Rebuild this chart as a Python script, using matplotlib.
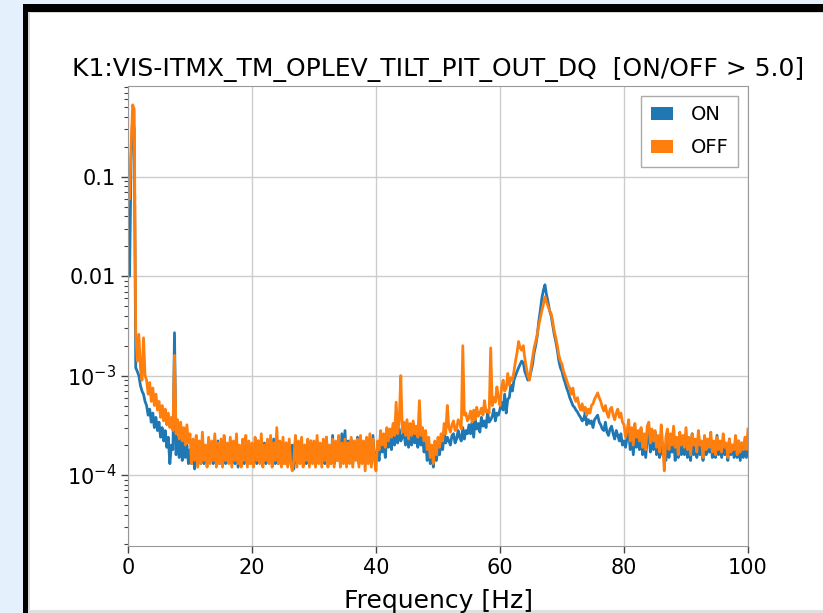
import numpy as np
import matplotlib
matplotlib.use("Agg")
import matplotlib.pyplot as plt
from matplotlib.patches import Rectangle, Patch
from matplotlib.ticker import FuncFormatter, LogLocator, FixedLocator

TITLE = "K1:VIS-ITMX_TM_OPLEV_TILT_PIT_OUT_DQ  [ON/OFF > 5.0]"
XLABEL = "Frequency [Hz]"
SERIES = ["ON", "OFF"]
COLORS = ["#1f77b4", "#ff7f0e"]
XTICKS = [0, 20, 40, 60, 80, 100]
YTICKS = [1e-1, 1e-2, 1e-3, 1e-4]
YTICK_LABELS = ["0.1", "0.01", r"$10^{-3}$", r"$10^{-4}$"]

# frequency samples [Hz], 0.25 Hz spacing
freq = np.arange(0, 100.001, 0.25)

# amplitudes in units of 1e-4
on_x1e4 = [
    # 0 - 2.75
    160, 100, 1500, 4000, 3000, 12, 11, 10, 8, 7, 6.5, 5.5,
    # 3 - 4.75
    5.0, 4.0, 4.6, 3.4, 4.2, 3.0, 3.8, 2.8,
    # 5 - 9.75
    3.4, 2.4, 3.0, 2.2, 2.8, 1.9, 2.4, 1.3, 2.0, 1.8, 27, 1.6, 2.4, 1.5, 2.6, 1.4, 2.2, 1.5, 2.0, 1.3,
    # 10 - 14.75
    1.8, 1.3, 2.0, 1.15, 1.7, 1.4, 2.1, 1.3, 1.9, 1.3, 1.8, 1.3, 2.0, 1.4, 1.7, 1.3, 1.9, 1.3, 2.2, 1.3,
    # 15 - 19.75
    1.9, 1.3, 2.1, 1.3, 1.8, 1.4, 2.2, 1.3, 1.9, 1.3, 2.0, 1.2, 1.8, 1.4, 2.1, 1.3, 1.9, 1.3, 2.0, 1.3,
    # 20 - 24.75
    1.8, 1.3, 2.0, 1.3, 2.2, 1.4, 1.9, 1.3, 2.1, 1.3, 1.8, 1.4, 2.0, 1.3, 2.3, 1.3, 1.9, 1.3, 2.1, 1.4,
    # 25 - 29.75
    1.9, 1.3, 2.1, 1.3, 1.8, 1.4, 2.0, 1.15, 2.2, 1.3, 1.9, 1.4, 2.1, 1.3, 2.0, 1.3, 1.8, 1.3, 2.2, 1.4,
    # 30 - 34.75
    2.0, 1.3, 2.2, 1.4, 1.9, 1.3, 2.1, 1.3, 2.4, 1.4, 1.9, 1.3, 2.5, 1.3, 2.0, 1.4, 2.2, 1.3, 2.6, 1.4,
    # 35 - 39.75
    2.8, 1.3, 2.2, 1.4, 2.3, 1.3, 2.1, 1.5, 2.4, 1.3, 2.2, 1.4, 2.0, 1.3, 2.3, 1.5, 2.1, 1.4, 2.5, 1.5,
    # 40 - 44.75
    1.6, 1.8, 1.4, 2.3, 1.7, 2.2, 1.5, 2.6, 1.9, 2.4, 1.8, 2.8, 2.0, 2.6, 2.1, 2.9, 2.2, 2.4, 2.8, 2.0,
    # 45 - 49.75
    2.8, 1.9, 2.6, 2.0, 2.9, 2.1, 2.5, 1.9, 3.0, 2.0, 2.4, 1.7, 2.2, 1.4, 1.9, 1.3, 1.7, 1.2, 1.9, 1.4,
    # 50 - 54.75
    2.0, 1.6, 2.2, 1.8, 2.6, 2.1, 2.4, 2.2, 2.0, 2.5, 2.6, 2.1, 2.3, 2.8, 2.4, 2.2, 3.0, 2.3, 2.8, 2.6,
    # 55 - 59.75
    3.2, 2.6, 3.4, 2.4, 3.6, 2.9, 3.3, 2.7, 3.8, 3.1, 3.5, 3.0, 4.3, 3.4, 3.6, 3.9, 4.6, 3.5, 4.2, 4.0,
    # 60 - 64.75
    4.6, 5.4, 4.5, 6.5, 4.2, 5.8, 6.0, 8.0, 7.0, 9.0, 10, 11, 12, 13, 14, 13.5, 11, 10, 9.0, 9.5,
    # 65 - 69.75
    11, 13, 17, 20, 25, 35, 45, 60, 72, 82, 65, 55, 45, 40, 32, 26, 22, 18, 14, 12,
    # 70 - 74.75
    11, 9.5, 8.5, 7.5, 6.8, 6.0, 5.5, 5.0, 4.8, 4.5, 4.3, 4.0, 3.8, 3.5, 3.6, 4.3, 3.2, 3.6, 3.3, 3.5,
    # 75 - 79.75
    3.0, 3.6, 3.8, 4.0, 3.4, 3.2, 2.9, 2.8, 3.4, 2.7, 2.5, 2.9, 3.1, 2.6, 2.3, 2.8, 2.5, 2.2, 2.6, 2.0,
    # 80 - 84.75
    2.2, 1.9, 2.4, 2.8, 1.8, 2.5, 1.6, 2.6, 1.9, 2.4, 1.8, 2.9, 1.6, 2.2, 1.5, 2.4, 2.7, 1.7, 2.3, 1.8,
    # 85 - 89.75
    2.7, 1.6, 2.1, 1.5, 2.3, 1.6, 2.0, 1.4, 2.6, 1.5, 2.2, 1.7, 2.4, 1.4, 2.0, 1.5, 2.5, 1.6, 2.2, 1.6,
    # 90 - 94.75
    2.2, 1.5, 2.0, 1.4, 2.6, 1.6, 2.1, 1.5, 2.3, 1.6, 1.9, 1.4, 2.4, 1.6, 2.0, 1.7, 2.2, 1.5, 2.0, 1.5,
    # 95 - 99.75
    2.5, 1.6, 2.0, 1.5, 2.1, 1.6, 1.9, 1.4, 2.3, 1.6, 2.0, 1.5, 2.0, 1.5, 2.2, 1.4, 2.1, 1.5, 2.0, 1.5,
    # 100
    2.0,
]
off_x1e4 = [
    # 0 - 2.75
    1000, 600, 2000, 5300, 4800, 27, 14, 26, 12, 9, 24, 10,
    # 3 - 4.75
    9.0, 6.5, 8.5, 5.5, 7.5, 5.0, 6.5, 4.5,
    # 5 - 9.75
    5.5, 3.8, 5.0, 3.5, 4.6, 3.2, 4.2, 3.0, 3.8, 2.8, 16, 2.6, 3.6, 2.3, 3.4, 2.2, 3.0, 2.0, 3.2, 2.1,
    # 10 - 14.75
    2.6, 1.3, 2.3, 1.4, 2.5, 1.2, 2.2, 1.3, 2.7, 1.4, 2.0, 1.2, 2.4, 1.3, 2.2, 1.4, 2.6, 1.2, 2.1, 1.3,
    # 15 - 19.75
    2.3, 1.2, 2.5, 1.4, 2.1, 1.3, 2.4, 1.2, 2.2, 1.4, 2.6, 1.3, 2.0, 1.2, 2.3, 1.4, 2.5, 1.2, 2.2, 1.3,
    # 20 - 24.75
    2.1, 1.2, 2.4, 1.4, 2.2, 1.3, 2.6, 1.2, 2.0, 1.4, 2.3, 1.3, 2.5, 1.2, 2.1, 1.4, 3.0, 1.3, 2.2, 1.2,
    # 25 - 29.75
    2.4, 1.3, 2.1, 1.2, 2.3, 1.3, 1.1, 1.4, 2.5, 1.2, 2.2, 1.3, 2.4, 1.2, 2.0, 1.4, 2.3, 1.2, 2.2, 1.3,
    # 30 - 34.75
    2.2, 1.2, 2.5, 1.3, 2.1, 1.2, 2.3, 1.4, 2.4, 1.2, 2.0, 1.3, 2.3, 1.2, 2.2, 1.4, 2.5, 1.2, 2.1, 1.3,
    # 35 - 39.75
    2.3, 1.2, 2.1, 1.3, 2.4, 1.2, 2.2, 1.4, 2.3, 1.2, 2.5, 1.3, 2.2, 1.1, 2.4, 1.3, 2.6, 1.2, 2.3, 1.4,
    # 40 - 44.75
    1.1, 2.2, 1.8, 2.8, 2.0, 2.6, 1.9, 3.0, 2.2, 2.9, 2.4, 3.3, 2.5, 5.4, 2.6, 3.6, 10, 2.7, 3.4, 2.5,
    # 45 - 49.75
    3.6, 2.3, 3.3, 2.5, 3.5, 2.6, 3.1, 2.4, 5.6, 2.5, 3.0, 2.2, 2.8, 1.8, 2.4, 1.5, 2.0, 1.3, 2.2, 1.6,
    # 50 - 54.75
    2.4, 1.9, 2.6, 2.2, 3.3, 2.6, 5.0, 3.0, 2.7, 3.2, 3.5, 2.8, 2.9, 3.6, 3.4, 2.9, 20, 4.0, 4.2, 3.5,
    # 55 - 59.75
    3.8, 4.4, 3.4, 4.5, 3.6, 4.8, 3.9, 4.2, 4.7, 4.0, 5.6, 4.3, 4.5, 4.2, 19, 5.0, 6.0, 5.4, 7.7, 6.0,
    # 60 - 64.75
    5.0, 7.5, 9.0, 7.0, 7.5, 10.5, 8.0, 9.5, 9.0, 11, 14, 17, 22, 19, 18, 20, 15, 12, 10, 9.0,
    # 65 - 69.75
    12, 15, 19, 22, 26, 32, 38, 45, 52, 62, 55, 50, 45, 42, 35, 28, 24, 20, 16, 14,
    # 70 - 74.75
    13, 11, 10, 9.0, 8.0, 7.5, 6.5, 7.5, 6.0, 5.5, 6.0, 5.0, 4.5, 5.2, 4.4, 4.8, 4.0, 4.6, 4.2, 5.0,
    # 75 - 79.75
    5.2, 5.8, 6.2, 6.7, 6.0, 5.5, 4.8, 4.4, 5.0, 4.2, 3.8, 4.6, 4.8, 4.0, 3.6, 4.2, 4.6, 3.8, 4.2, 3.4,
    # 80 - 84.75
    3.2, 2.4, 2.8, 3.6, 2.2, 3.0, 2.0, 3.3, 2.4, 2.8, 2.2, 3.0, 1.9, 2.6, 1.8, 3.1, 3.4, 2.1, 2.9, 2.2,
    # 85 - 89.75
    2.8, 1.9, 2.5, 1.7, 3.2, 2.0, 1.1, 2.4, 2.9, 1.8, 2.6, 2.0, 3.1, 1.9, 2.4, 1.6, 2.7, 2.0, 2.5, 1.9,
    # 90 - 94.75
    3.0, 1.8, 2.4, 1.6, 2.6, 2.0, 2.3, 1.7, 2.8, 2.0, 2.2, 1.5, 2.5, 1.8, 2.3, 1.9, 2.7, 1.7, 2.2, 1.6,
    # 95 - 99.75
    2.4, 1.8, 2.2, 1.7, 2.6, 1.9, 2.1, 1.5, 2.3, 1.7, 2.0, 1.8, 2.5, 1.6, 2.2, 1.7, 2.1, 1.8, 2.4, 1.8,
    # 100
    2.9,
]
assert len(on_x1e4) == len(freq) and len(off_x1e4) == len(freq)
on_asd = np.array(on_x1e4) * 1e-4
off_asd = np.array(off_x1e4) * 1e-4

W, H = 823, 613
fig = plt.figure(figsize=(W / 100, H / 100), dpi=100)
fig.patch.set_facecolor("white")

def px_rect(x0, y0, x1, y1, color, z=0):
    r = Rectangle((x0 / W, 1 - y1 / H), (x1 - x0) / W, (y1 - y0) / H,
                  transform=fig.transFigure, facecolor=color, edgecolor="none",
                  zorder=z)
    fig.add_artist(r)

# page frame around the plot image
px_rect(0, 0, 23, H, "#e4f1fd")
px_rect(0, 0, W, 4, "#e4f1fd")
px_rect(23, 4, 28, H, "#000000")
px_rect(23, 4, W, 12, "#000000")
px_rect(28, 12, 30, H, "#d8d8d8")
px_rect(28, 12, W, 13, "#d8d8d8")
px_rect(28, 610, W, H, "#e0e0e0")

ax = fig.add_axes([128 / W, 1 - 546 / H, 620 / W, 460 / H])
for lab, col, vals in zip(SERIES, COLORS, [on_asd, off_asd]):
    ax.plot(freq, vals, color=col, lw=2.0, label=lab)

ax.set_yscale("log")
ax.set_xlim(0, 100)
ax.set_ylim(1.93e-5, 0.82)
ax.xaxis.set_major_locator(FixedLocator(XTICKS))
ax.yaxis.set_major_locator(FixedLocator(YTICKS))
ax.yaxis.set_major_formatter(FuncFormatter(
    lambda v, p: dict(zip(YTICKS, YTICK_LABELS)).get(v, "")))
ax.yaxis.set_minor_locator(LogLocator(base=10, subs=np.arange(2, 10), numticks=20))
ax.yaxis.set_minor_formatter(FuncFormatter(lambda v, p: ""))
ax.tick_params(axis="both", which="major", labelsize=15, length=5, width=1,
               color="#444444")
ax.tick_params(axis="y", which="minor", length=3, width=0.8, color="#444444")
ax.grid(True, which="major", color="#cccccc", lw=1)
for s in ax.spines.values():
    s.set_color("#999999")
ax.set_title(TITLE, fontsize=18, pad=7)
ax.set_xlabel(XLABEL, fontsize=18, labelpad=8)

handles = [Patch(facecolor=c, edgecolor="none", label=l) for l, c in zip(SERIES, COLORS)]
leg = ax.legend(handles=handles, loc="upper right", fontsize=14, fancybox=False,
                framealpha=1, edgecolor="#aaaaaa", borderaxespad=0.5,
                handlelength=1.15, handleheight=0.65, labelspacing=0.7,
                handletextpad=0.9, borderpad=0.5)

fig.savefig("out.png", dpi=100)
